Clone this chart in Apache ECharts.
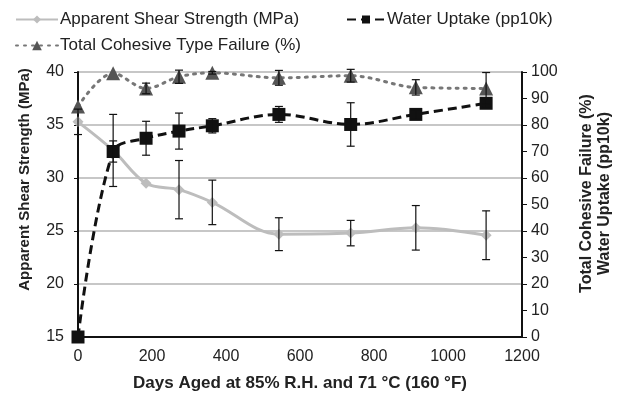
<!DOCTYPE html>
<html><head><meta charset="utf-8">
<script src="https://cdn.jsdelivr.net/npm/echarts@6/dist/echarts.min.js"></script>
<style>html,body{margin:0;padding:0;background:#fff}#c{width:625px;height:397px}</style>
</head><body><div id="c"></div>
<script>
var days = [0, 95, 184, 273, 363, 543, 737, 913, 1103];
var shear = [35.3, 32.6, 29.5, 28.9, 27.7, 24.7, 24.8, 25.3, 24.6];
var shearErr = [1.2, 3.4, 0, 2.75, 2.1, 1.55, 1.2, 2.1, 2.3];
var water = [0, 70, 75, 77.7, 79.7, 84, 80.2, 84, 88.2];
var waterErr = [0, 4, 6.4, 6.8, 2.7, 3, 8.2, 1.7, 1.5];
var cohesive = [87, 99.5, 93.8, 98.2, 99.7, 97.8, 98.6, 94.2, 93.8];
var cohesiveErr = [0, 0, 2, 2.5, 0.5, 2.8, 2.4, 2.9, 6];
var xTicks = {min: 0, max: 1200, interval: 200};
var leftTicks = {min: 15, max: 40, interval: 5};
var rightTicks = {min: 0, max: 100, interval: 10};

var FONT = 'Liberation Sans, Arial, sans-serif';
function pairs(v) { return days.map(function (d, i) { return [d, v[i]]; }); }
function errData(v, e) {
  var out = [];
  days.forEach(function (d, i) { if (e[i] > 0) out.push([d, v[i] - e[i], v[i] + e[i]]); });
  return out;
}
function errRender(params, api) {
  var x = api.value(0);
  var lo = api.coord([x, api.value(1)]);
  var hi = api.coord([x, api.value(2)]);
  var w = 4;
  var st = {stroke: '#111', lineWidth: 1.2};
  return {type: 'group', children: [
    {type: 'line', shape: {x1: lo[0], y1: lo[1], x2: hi[0], y2: hi[1]}, style: st},
    {type: 'line', shape: {x1: lo[0] - w, y1: lo[1], x2: lo[0] + w, y2: lo[1]}, style: st},
    {type: 'line', shape: {x1: hi[0] - w, y1: hi[1], x2: hi[0] + w, y2: hi[1]}, style: st}
  ]};
}
var plain = function (v) { return String(v); };
var chart = echarts.init(document.getElementById('c'));
var legendText = {fontFamily: FONT, fontSize: 17, color: '#222', padding: [0, 0, 0, -3]};
chart.setOption({
  animation: false,
  backgroundColor: '#fff',
  textStyle: {fontFamily: FONT},
  legend: [
    {left: 10, top: 6, itemWidth: 42, itemHeight: 10, textStyle: legendText, data: ['Apparent Shear Strength (MPa)']},
    {left: 341, top: 6, itemWidth: 38, itemHeight: 10, textStyle: legendText, data: ['Water Uptake (pp10k)']},
    {left: 10, top: 32, itemWidth: 42, itemHeight: 12, textStyle: legendText, data: ['Total Cohesive Type Failure (%)']}
  ],
  grid: {left: 78, right: 103, top: 72, bottom: 60},
  xAxis: {
    type: 'value', min: xTicks.min, max: xTicks.max, interval: xTicks.interval,
    name: 'Days Aged at 85% R.H. and 71 °C (160 °F)', nameLocation: 'middle', nameGap: 38,
    nameTextStyle: {fontFamily: FONT, fontSize: 17, fontWeight: 'bold', color: '#222'},
    axisLine: {show: true, lineStyle: {color: '#111', width: 2}},
    axisTick: {show: false},
    axisLabel: {fontSize: 16, color: '#222', margin: 12, fontFamily: FONT, formatter: plain},
    splitLine: {show: false}
  },
  yAxis: [{
    type: 'value', min: leftTicks.min, max: leftTicks.max, interval: leftTicks.interval,
    name: 'Apparent Shear Strength (MPa)', nameLocation: 'middle', nameGap: 46,
    nameTextStyle: {fontFamily: FONT, fontSize: 15, fontWeight: 'bold', color: '#222', padding: [0, 0, 0, 50]},
    axisLine: {show: true, lineStyle: {color: '#111', width: 2}},
    axisTick: {show: true, length: 4, lineStyle: {color: '#111'}},
    axisLabel: {fontSize: 16, color: '#222', margin: 14, fontFamily: FONT, formatter: plain},
    splitLine: {show: true, lineStyle: {color: '#b4b4b4', width: 1.5}}
  }, {
    type: 'value', min: rightTicks.min, max: rightTicks.max, interval: rightTicks.interval,
    name: 'Total Cohesive Failure (%)\nWater Uptake (pp10k)', nameLocation: 'middle', nameGap: 56,
    nameRotate: 90,
    nameTextStyle: {fontFamily: FONT, fontSize: 16, fontWeight: 'bold', color: '#222', lineHeight: 18, padding: [0, 0, 0, 22]},
    axisLine: {show: true, lineStyle: {color: '#111', width: 2}},
    axisTick: {show: true, length: 5, lineStyle: {color: '#111'}},
    axisLabel: {fontSize: 16, color: '#222', margin: 9, fontFamily: FONT, formatter: plain},
    splitLine: {show: false}
  }],
  series: [
    {
      name: 'Apparent Shear Strength (MPa)', type: 'line', yAxisIndex: 0, smooth: 0.35,
      data: pairs(shear), symbol: 'diamond', symbolSize: 11,
      lineStyle: {color: '#bdbdbd', width: 3}, itemStyle: {color: '#bdbdbd'}, z: 2
    },
    {
      name: 'Water Uptake (pp10k)', type: 'line', yAxisIndex: 1, smooth: 0.35,
      data: pairs(water), symbol: 'rect', symbolSize: 13,
      lineStyle: {color: '#111', width: 3, type: [9, 5]}, itemStyle: {color: '#111'}, z: 4
    },
    {
      name: 'Total Cohesive Type Failure (%)', type: 'line', yAxisIndex: 1, smooth: 0.35,
      data: pairs(cohesive), symbol: 'triangle', symbolSize: 14,
      lineStyle: {color: '#777', width: 3, type: [2, 6], cap: 'round'}, itemStyle: {color: '#555'}, z: 3
    },
    {type: 'custom', yAxisIndex: 0, renderItem: errRender, data: errData(shear, shearErr), z: 5, silent: true},
    {type: 'custom', yAxisIndex: 1, renderItem: errRender, data: errData(water, waterErr), z: 5, silent: true},
    {type: 'custom', yAxisIndex: 1, renderItem: errRender, data: errData(cohesive, cohesiveErr), z: 5, silent: true}
  ]
});
</script></body></html>
